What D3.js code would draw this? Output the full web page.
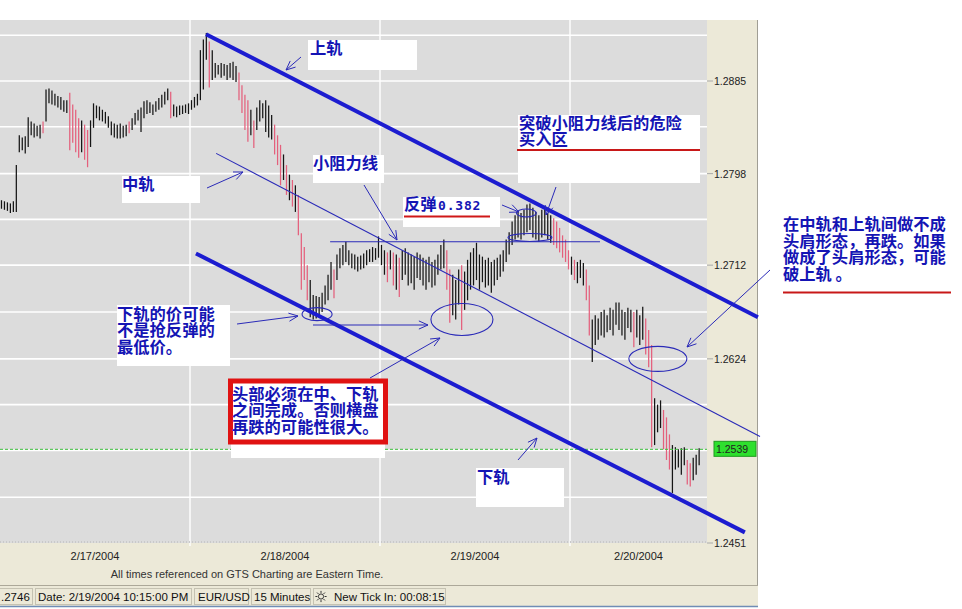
<!DOCTYPE html>
<html><head><meta charset="utf-8">
<script src="https://cdn.jsdelivr.net/npm/d3@7"></script>
<style>body{margin:0;background:#fff} svg{display:block}</style>
</head><body><svg id="c" width="962" height="609"></svg>
<script>
// ---------- DATA ----------
const dayLabels = ["2/17/2004","2/18/2004","2/19/2004","2/20/2004"];
const barsPerDay = 64;
const highs = [
1.2773,1.2772,1.2771,1.2770,1.2772,1.2806,1.2834,1.2832,1.2833,1.2851,
1.2847,1.2845,1.2843,1.2844,1.2847,1.2877,1.2878,1.2876,1.2873,1.2871,
1.2870,1.2867,1.2867,1.2874,1.2863,1.2858,1.2850,1.2848,1.2844,1.2839,
1.2848,1.2864,1.2862,1.2861,1.2858,1.2856,1.2852,1.2847,1.2845,1.2844,
1.2845,1.2843,1.2844,1.2847,1.2850,1.2855,1.2858,1.2860,1.2866,1.2867,
1.2865,1.2863,1.2866,1.2869,1.2872,1.2875,1.2878,1.2875,1.2863,1.2861,
1.2862,1.2862,1.2863,1.2864,1.2867,1.2870,1.2873,1.2914,1.2924,1.2930,
1.2922,1.2914,1.2902,1.2900,1.2902,1.2901,1.2900,1.2902,1.2903,1.2899,
1.2893,1.2881,1.2872,1.2867,1.2858,1.2848,1.2860,1.2867,1.2864,1.2867,
1.2862,1.2853,1.2844,1.2834,1.2825,1.2816,1.2806,1.2797,1.2792,1.2787,
1.2778,1.2742,1.2729,1.2712,1.2698,1.2684,1.2683,1.2682,1.2686,1.2693,
1.2703,1.2715,1.2708,1.2722,1.2728,1.2731,1.2734,1.2726,1.2723,1.2722,
1.2720,1.2721,1.2723,1.2726,1.2727,1.2729,1.2728,1.2739,1.2731,1.2726,
1.2724,1.2726,1.2724,1.2722,1.2719,1.2726,1.2728,1.2724,1.2722,1.2720,
1.2724,1.2722,1.2719,1.2717,1.2720,1.2715,1.2717,1.2722,1.2731,1.2736,
1.2726,1.2708,1.2703,1.2698,1.2708,1.2712,1.2706,1.2717,1.2724,1.2728,
1.2733,1.2722,1.2720,1.2717,1.2719,1.2715,1.2717,1.2719,1.2722,1.2726,
1.2736,1.2743,1.2753,1.2759,1.2762,1.2761,1.2764,1.2769,1.2770,1.2766,
1.2762,1.2759,1.2764,1.2767,1.2761,1.2759,1.2756,1.2753,1.2747,1.2740,
1.2736,1.2726,1.2720,1.2717,1.2715,1.2717,1.2714,1.2708,1.2693,1.2661,
1.2665,1.2662,1.2668,1.2670,1.2665,1.2672,1.2670,1.2677,1.2677,1.2670,
1.2668,1.2672,1.2670,1.2668,1.2670,1.2665,1.2673,1.2662,1.2651,1.2637,
1.2587,1.2581,1.2585,1.2576,1.2569,1.2553,1.2543,1.2541,1.2539,1.2540,
1.2541,1.2529,1.2526,1.2531,1.2534,1.2540];
const lows = [
1.2765,1.2764,1.2763,1.2761,1.2762,1.2762,1.2818,1.2820,1.2817,1.2823,
1.2834,1.2832,1.2833,1.2831,1.2836,1.2847,1.2864,1.2863,1.2862,1.2860,
1.2858,1.2856,1.2855,1.2820,1.2827,1.2818,1.2813,1.2818,1.2811,1.2804,
1.2823,1.2841,1.2850,1.2848,1.2847,1.2845,1.2841,1.2834,1.2832,1.2831,
1.2831,1.2832,1.2833,1.2836,1.2839,1.2844,1.2848,1.2837,1.2850,1.2854,
1.2855,1.2853,1.2856,1.2858,1.2860,1.2863,1.2867,1.2850,1.2852,1.2851,
1.2853,1.2854,1.2855,1.2854,1.2858,1.2860,1.2862,1.2867,1.2877,1.2905,
1.2879,1.2886,1.2888,1.2891,1.2888,1.2890,1.2886,1.2888,1.2886,1.2884,
1.2867,1.2855,1.2839,1.2828,1.2834,1.2822,1.2839,1.2847,1.2850,1.2837,
1.2832,1.2830,1.2816,1.2806,1.2787,1.2792,1.2778,1.2773,1.2767,1.2762,
1.2740,1.2689,1.2698,1.2679,1.2663,1.2661,1.2662,1.2665,1.2668,1.2675,
1.2679,1.2689,1.2681,1.2698,1.2709,1.2712,1.2715,1.2712,1.2709,1.2708,
1.2706,1.2708,1.2709,1.2712,1.2715,1.2715,1.2717,1.2719,1.2712,1.2703,
1.2696,1.2708,1.2693,1.2689,1.2682,1.2698,1.2703,1.2693,1.2695,1.2689,
1.2700,1.2698,1.2693,1.2689,1.2696,1.2691,1.2693,1.2703,1.2708,1.2709,
1.2689,1.2658,1.2665,1.2661,1.2675,1.2651,1.2670,1.2679,1.2689,1.2693,
1.2698,1.2689,1.2696,1.2691,1.2693,1.2686,1.2693,1.2698,1.2701,1.2706,
1.2715,1.2722,1.2731,1.2736,1.2738,1.2736,1.2740,1.2743,1.2745,1.2738,
1.2736,1.2734,1.2738,1.2740,1.2736,1.2733,1.2731,1.2728,1.2724,1.2719,
1.2715,1.2708,1.2703,1.2698,1.2695,1.2700,1.2693,1.2679,1.2646,1.2621,
1.2637,1.2642,1.2646,1.2644,1.2649,1.2651,1.2646,1.2656,1.2651,1.2646,
1.2642,1.2653,1.2649,1.2635,1.2644,1.2637,1.2642,1.2628,1.2616,1.2541,
1.2543,1.2555,1.2559,1.2539,1.2529,1.2520,1.2498,1.2520,1.2522,1.2515,
1.2524,1.2506,1.2504,1.2510,1.2515,1.2524];
const downBars = [14,23,24,25,26,28,29,43,57,70,80,81,82,83,85,92,93,94,96,98,100,101,102,103,112,130,132,134,150,151,155,186,187,188,189,190,191,193,197,198,213,217,218,219,223,224,225,231,232];
const gridValues = [1.2928,1.2885,1.2842,1.2798,1.2755,1.2712,1.2668,1.2624,1.2581,1.2538,1.2494];
const tickLabels = [1.2885,1.2798,1.2712,1.2624,1.2451];
const lastPrice = 1.2539;
// trend lines in (bar index, price)
const upperRail = [[69.4,1.2929],[255.3,1.2663]];
const middleRail = [[72.8,1.2817],[256,1.2551]];
const lowerRail = [[66.0,1.2723],[250.9,1.2461]];
const resistance = [[111.2,1.2734],[202.1,1.2734]];
const ellipses = [[106.8,1.2666,15,6.5],[155.6,1.2661,31,16],[221.6,1.2624,29,12.5],[177.3,1.2761,10,4],[178.5,1.2738,22,4]];

// ---------- CHART ----------
const svg = d3.select("#c");
const PL=0, PT=20, PR=707, PB=543;
const x = d3.scaleLinear().domain([0, barsPerDay*4]).range([0, 760]);
const y = d3.scaleLinear().domain([1.2451, 1.2885]).range([543, 81]);
const BLUE="#1414b4", RAIL="#1c1cd0", THIN="#2a2ab8";
const cjk = "'Noto Sans CJK SC', sans-serif";
const latin = "'Liberation Sans', Arial, sans-serif";

svg.append("rect").attr("width",962).attr("height",609).attr("fill","#fff");
svg.append("rect").attr("x",PL).attr("y",PT).attr("width",PR-PL).attr("height",PB-PT).attr("fill","#dcdcdc");
svg.append("rect").attr("x",PR).attr("y",PT).attr("width",50).attr("height",566).attr("fill","#ece9d8");
svg.append("rect").attr("x",0).attr("y",PB).attr("width",PR).attr("height",43).attr("fill","#ece9d8");
svg.append("line").attr("x1",757.5).attr("x2",757.5).attr("y1",PT).attr("y2",586).attr("stroke","#a09e94");

// grid
svg.append("g").selectAll("line").data(gridValues).join("line")
  .attr("x1",PL).attr("x2",PR).attr("y1",d=>y(d)).attr("y2",d=>y(d))
  .attr("stroke","#fff").attr("stroke-width",1.6);
const dayBounds = [1,2,3].map(k=>k*barsPerDay);
svg.append("g").selectAll("line").data(dayBounds).join("line")
  .attr("x1",d=>x(d)).attr("x2",d=>x(d)).attr("y1",PT).attr("y2",PB+3)
  .attr("stroke","#fff").attr("stroke-width",1.4);
svg.append("line").attr("x1",0).attr("x2",PR).attr("y1",PB-1).attr("y2",PB-1)
  .attr("stroke","#c9c9c9").attr("stroke-width",2).attr("stroke-dasharray","1,2");

// bars
const downSet = new Set(downBars);
svg.append("g").selectAll("line").data(highs).join("line")
  .attr("x1",(d,i)=>x(i+0.5)).attr("x2",(d,i)=>x(i+0.5))
  .attr("y1",d=>y(d)).attr("y2",(d,i)=>y(lows[i]))
  .attr("stroke",(d,i)=>downSet.has(i)?"#e4607c":"#151515").attr("stroke-width",1.25);

// current price dashed line
svg.append("line").attr("x1",0).attr("x2",PR).attr("y1",y(lastPrice)).attr("y2",y(lastPrice))
  .attr("stroke","#3cbf3c").attr("stroke-dasharray","3,2");

// axis labels
const yl = svg.append("g");
yl.selectAll("line").data(tickLabels).join("line")
  .attr("x1",PR).attr("x2",PR+6).attr("y1",d=>y(d)).attr("y2",d=>y(d)).attr("stroke","#aaa");
yl.selectAll("text").data(tickLabels).join("text")
  .attr("x",714).attr("y",d=>y(d)+4).text(d=>d.toFixed(4))
  .attr("font-family",latin).attr("font-size",10.5).attr("fill","#222");
svg.append("rect").attr("x",714).attr("y",y(lastPrice)-8).attr("width",42).attr("height",15)
  .attr("fill","#2ee02e").attr("stroke","#1f9a1f");
svg.append("text").attr("x",716).attr("y",y(lastPrice)+4).text(lastPrice.toFixed(4))
  .attr("font-family",latin).attr("font-size",10.5).attr("fill","#222");

svg.append("g").selectAll("text").data(dayLabels).join("text")
  .attr("x",(d,i)=>(x(i*barsPerDay)+Math.min(x((i+1)*barsPerDay),PR))/2).attr("y",560)
  .attr("text-anchor","middle").text(d=>d)
  .attr("font-family",latin).attr("font-size",11).attr("fill","#222");
svg.append("text").attr("x",247).attr("y",578).attr("text-anchor","middle")
  .text("All times referenced on GTS Charting are Eastern Time.")
  .attr("font-family",latin).attr("font-size",11).attr("fill","#333");

// status bar
svg.append("rect").attr("x",0).attr("y",586).attr("width",758).attr("height",20).attr("fill","#ece9d8");
svg.append("line").attr("x1",0).attr("x2",758).attr("y1",585.5).attr("y2",585.5).attr("stroke","#aca899");
svg.append("line").attr("x1",0).attr("x2",758).attr("y1",606.5).attr("y2",606.5).attr("stroke","#6f8db5").attr("stroke-width",1.5);
const panels = [[-5,33],[35,192],[194,249],[251,311],[313,446]];
panels.forEach(p=>{
  svg.append("rect").attr("x",p[0]+0.5).attr("y",588.5).attr("width",p[1]-p[0]-1).attr("height",16)
    .attr("fill","none").attr("stroke","#c5c2b2");
});
const status = [[".2746",1,"start"],["Date: 2/19/2004 10:15:00 PM",38,"start"],["EUR/USD",198,"start"],["15 Minutes",254,"start"],["New Tick In: 00:08:15",334,"start"]];
svg.append("g").selectAll("text").data(status).join("text")
  .attr("x",d=>d[1]).attr("y",601).attr("text-anchor",d=>d[2]).text(d=>d[0])
  .attr("font-family",latin).attr("font-size",11.5).attr("fill","#111");
const ic = svg.append("g").attr("transform","translate(321,596.5)");
ic.append("circle").attr("r",2.6).attr("fill","none").attr("stroke","#333");
d3.range(8).forEach(k=>{const a=k*Math.PI/4;
  ic.append("line").attr("x1",3.6*Math.cos(a)).attr("y1",3.6*Math.sin(a)).attr("x2",5.6*Math.cos(a)).attr("y2",5.6*Math.sin(a)).attr("stroke","#333");});

// ---------- ANNOTATIONS ----------
const ann = svg.append("g");
function rail(pts, w, c){
  ann.append("line").attr("x1",x(pts[0][0])).attr("y1",y(pts[0][1]))
    .attr("x2",x(pts[1][0])).attr("y2",y(pts[1][1])).attr("stroke",c).attr("stroke-width",w);
}
rail(middleRail,1.1,THIN);
rail(resistance,1.1,THIN);
rail(upperRail,4,RAIL);
rail(lowerRail,4,RAIL);
ellipses.forEach(e=>ann.append("ellipse").attr("cx",x(e[0])).attr("cy",y(e[1])).attr("rx",e[2]).attr("ry",e[3])
  .attr("fill","none").attr("stroke",THIN).attr("stroke-width",1.1));

function arrow(x1,y1,x2,y2,head=true){
  ann.append("line").attr("x1",x1).attr("y1",y1).attr("x2",x2).attr("y2",y2).attr("stroke",THIN).attr("stroke-width",1);
  if(!head) return;
  const a=Math.atan2(y2-y1,x2-x1), L=10, s=0.42;
  [a-s,a+s].forEach(b=>ann.append("line").attr("x1",x2).attr("y1",y2)
    .attr("x2",x2-L*Math.cos(b)).attr("y2",y2-L*Math.sin(b)).attr("stroke",THIN).attr("stroke-width",1));
}
arrow(301,57,286,70);
arrow(207,188,243,172);
arrow(364,185,397,240);
arrow(502,205,519,212);
arrow(556,187,546,215);
arrow(237,324,298,316);
arrow(313,325,428,325);
arrow(370,378,440,338);
arrow(518,460,537,438);
arrow(770,270,687,347);

function box(x0,y0,w,h){ ann.append("rect").attr("x",x0).attr("y",y0).attr("width",w).attr("height",h).attr("fill","#fff"); }
function txt(x0,y0,lines,lh=16.5){
  lines.forEach((s,k)=>ann.append("text").attr("x",x0).attr("y",y0+k*lh).text(s)
    .attr("font-family",cjk).attr("font-weight",700).attr("font-size",16.3).attr("fill",BLUE));
}
box(308,40,109,30); txt(310,54,["上轨"]);
box(122,176,78,27); txt(122,190,["中轨"]);
box(313,155,71,28); txt(313,169,["小阻力线"]);
box(403,197,97,30);
txt(404,210,["反弹"]);
ann.append("text").attr("x",438).attr("y",210).text("0.382").attr("font-family","'DejaVu Sans Mono', monospace")
  .attr("font-weight",700).attr("font-size",13).attr("letter-spacing",0.8).attr("fill",BLUE);
ann.append("line").attr("x1",404).attr("x2",490).attr("y1",216.5).attr("y2",216.5).attr("stroke","#d01818").attr("stroke-width",2);
box(518,115,182,68); txt(519,129,["突破小阻力线后的危险","买入区"],15.5);
ann.append("line").attr("x1",517).attr("x2",700).attr("y1",150).attr("y2",150).attr("stroke","#c81818").attr("stroke-width",2);
txt(783,230,["在中轨和上轨间做不成","头肩形态，再跌。如果","做成了头肩形态，可能","破上轨 。"],16.5);
ann.append("line").attr("x1",783).attr("x2",951).attr("y1",292.5).attr("y2",292.5).attr("stroke","#c81818").attr("stroke-width",2);
box(117,305,113,61); txt(117,320,["下轨的价可能","不是抢反弹的","最低价。"],16.3);
box(231,444,154,14);
ann.append("rect").attr("x",230.5).attr("y",381).attr("width",155).attr("height",61).attr("fill","#fff")
  .attr("stroke","#e01212").attr("stroke-width",5);
txt(232,400,["头部必须在中、下轨","之间完成。否则横盘","再跌的可能性很大。"],16.3);
box(476,468,88,39); txt(477,483,["下轨"]);
</script></body></html>
